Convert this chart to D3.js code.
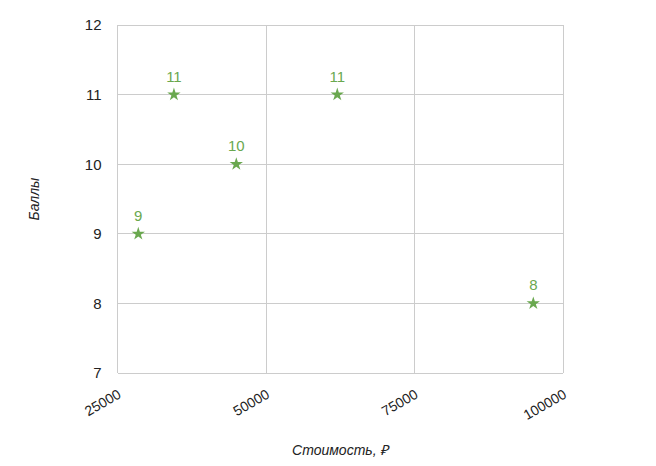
<!DOCTYPE html>
<html><head><meta charset="utf-8">
<script src="https://cdn.jsdelivr.net/npm/d3@7"></script>
<style>body{margin:0;background:#fff}svg{display:block}</style>
</head><body>
<svg id="c" width="656" height="466"></svg>
<script>
const costs = [28500, 34500, 45000, 62000, 95000];
const scores = [9, 11, 10, 11, 8];
const xTicks = [25000, 50000, 75000, 100000];
const yTicks = [7, 8, 9, 10, 11, 12];
const xTitle = "Стоимость, ₽";
const yTitle = "Баллы";

const svg = d3.select("#c");
const m = {l: 117.5, r: 563, t: 25, b: 373};
const x = d3.scaleLinear().domain([25000, 100000]).range([m.l, m.r]);
const y = d3.scaleLinear().domain([7, 12]).range([m.b, m.t]);
const green = "#6aa84f";
const font = "Arial, 'Liberation Sans', sans-serif";

// gridlines
svg.append("g").selectAll("line").data(xTicks).join("line")
  .attr("x1", d => x(d)).attr("x2", d => x(d)).attr("y1", m.t).attr("y2", m.b)
  .attr("stroke", "#cccccc").attr("stroke-width", 1).attr("shape-rendering", "crispEdges");
svg.append("g").selectAll("line").data(yTicks).join("line")
  .attr("x1", m.l).attr("x2", m.r).attr("y1", d => y(d)).attr("y2", d => y(d))
  .attr("stroke", "#cccccc").attr("stroke-width", 1).attr("shape-rendering", "crispEdges");

// y axis labels
const yAxis = d3.axisLeft(y).tickValues(yTicks).tickSize(0).tickPadding(16).tickFormat(d3.format("d"));
const ya = svg.append("g").attr("transform", `translate(${m.l},0)`).call(yAxis);
ya.select(".domain").remove();
ya.selectAll("text").attr("font-family", font).attr("font-size", 15).attr("fill", "#222");

// x axis labels
const xAxis = d3.axisBottom(x).tickValues(xTicks).tickSize(0).tickPadding(0).tickFormat(d3.format("d"));
const xa = svg.append("g").attr("transform", `translate(0,${m.b})`).call(xAxis);
xa.select(".domain").remove();
xa.selectAll("text")
  .attr("font-family", font).attr("font-size", 14).attr("fill", "#222")
  .attr("text-anchor", "end").attr("dy", null).attr("y", 0).attr("x", 0)
  .attr("transform", "translate(4,24) rotate(-30)");

// titles
svg.append("text").attr("x", (m.l + m.r) / 2).attr("y", 455)
  .attr("text-anchor", "middle").attr("font-family", font).attr("font-size", 14)
  .attr("font-style", "italic").attr("fill", "#222").text(xTitle);
svg.append("text").attr("transform", `translate(39,${(m.t + m.b) / 2}) rotate(-90)`)
  .attr("text-anchor", "middle").attr("font-family", font).attr("font-size", 14)
  .attr("font-style", "italic").attr("fill", "#222").text(yTitle);

// points
const data = costs.map((c, i) => ({c, s: scores[i]}));
const star = d3.symbol().type(d3.symbolStar).size(55);
svg.append("g").selectAll("path").data(data).join("path")
  .attr("d", star)
  .attr("transform", d => `translate(${x(d.c)},${y(d.s)})`)
  .attr("fill", green);
svg.append("g").selectAll("text").data(data).join("text")
  .attr("x", d => x(d.c)).attr("y", d => y(d.s) - 13)
  .attr("text-anchor", "middle").attr("font-family", font).attr("font-size", 15)
  .attr("fill", green).text(d => d.s);
</script>
</body></html>
